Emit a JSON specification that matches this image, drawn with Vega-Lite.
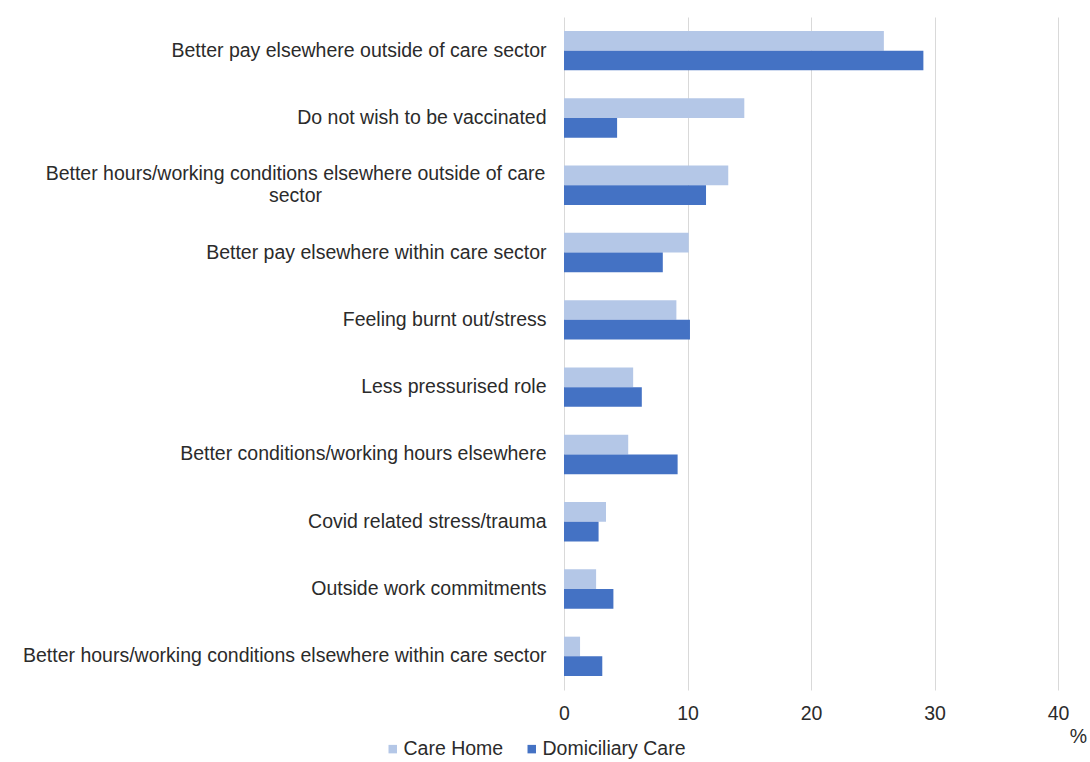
{
  "$schema": "https://vega.github.io/schema/vega-lite/v6.json",
  "width": 494,
  "height": 673,
  "autosize": {"type": "none"},
  "padding": {"left": 564, "top": 17, "right": 32, "bottom": 72},
  "background": "white",
  "config": {"view": {"stroke": null}, "font": "Liberation Sans"},
  "data": {
    "values": [
      {"reason": "Better pay elsewhere outside of care sector", "series": "Care Home", "value": 25.9},
      {"reason": "Better pay elsewhere outside of care sector", "series": "Domiciliary Care", "value": 29.1},
      {"reason": "Do not wish to be vaccinated", "series": "Care Home", "value": 14.6},
      {"reason": "Do not wish to be vaccinated", "series": "Domiciliary Care", "value": 4.3},
      {"reason": "Better hours/working conditions elsewhere outside of care sector", "series": "Care Home", "value": 13.3},
      {"reason": "Better hours/working conditions elsewhere outside of care sector", "series": "Domiciliary Care", "value": 11.5},
      {"reason": "Better pay elsewhere within care sector", "series": "Care Home", "value": 10.1},
      {"reason": "Better pay elsewhere within care sector", "series": "Domiciliary Care", "value": 8.0},
      {"reason": "Feeling burnt out/stress", "series": "Care Home", "value": 9.1},
      {"reason": "Feeling burnt out/stress", "series": "Domiciliary Care", "value": 10.2},
      {"reason": "Less pressurised role", "series": "Care Home", "value": 5.6},
      {"reason": "Less pressurised role", "series": "Domiciliary Care", "value": 6.3},
      {"reason": "Better conditions/working hours elsewhere", "series": "Care Home", "value": 5.2},
      {"reason": "Better conditions/working hours elsewhere", "series": "Domiciliary Care", "value": 9.2},
      {"reason": "Covid related stress/trauma", "series": "Care Home", "value": 3.4},
      {"reason": "Covid related stress/trauma", "series": "Domiciliary Care", "value": 2.8},
      {"reason": "Outside work commitments", "series": "Care Home", "value": 2.6},
      {"reason": "Outside work commitments", "series": "Domiciliary Care", "value": 4.0},
      {"reason": "Better hours/working conditions elsewhere within care sector", "series": "Care Home", "value": 1.3},
      {"reason": "Better hours/working conditions elsewhere within care sector", "series": "Domiciliary Care", "value": 3.1}
    ]
  },
  "mark": {"type": "bar"},
  "encoding": {
    "y": {
      "field": "reason",
      "type": "nominal",
      "sort": null,
      "scale": {"paddingInner": 0.415, "paddingOuter": 0.2075},
      "axis": {
        "title": null,
        "domain": false,
        "ticks": false,
        "grid": false,
        "labelFontSize": 19.5,
        "labelColor": "#2b2b2b",
        "labelLimit": 0,
        "labelLineHeight": 22,
        "labelExpr": "datum.value == 'Better hours/working conditions elsewhere outside of care sector' ? ['Better hours/working conditions elsewhere outside of care', 'sector'] : datum.value",
        "labelPadding": {"condition": {"test": "datum.value == 'Better hours/working conditions elsewhere outside of care sector'", "value": 269}, "value": 18},
        "labelAlign": {"condition": {"test": "datum.value == 'Better hours/working conditions elsewhere outside of care sector'", "value": "center"}, "value": "right"},
        "labelOffset": {"condition": {"test": "datum.value == 'Better hours/working conditions elsewhere outside of care sector'", "value": -11}, "value": 0}
      }
    },
    "yOffset": {
      "field": "series",
      "type": "nominal",
      "sort": ["Care Home", "Domiciliary Care"],
      "scale": {"paddingInner": 0, "paddingOuter": 0}
    },
    "x": {
      "field": "value",
      "type": "quantitative",
      "scale": {"domain": [0, 40]},
      "axis": {
        "values": [0, 10, 20, 30, 40],
        "grid": true,
        "gridColor": "#d9d9d9",
        "domain": false,
        "ticks": false,
        "labelFlush": false,
        "labelFontSize": 19.5,
        "labelColor": "#2b2b2b",
        "labelPadding": 14,
        "title": "%",
        "titleX": 514,
        "titleY": 46,
        "titleAlign": "center",
        "titleBaseline": "middle",
        "titleFontSize": 19.5,
        "titleFontWeight": "normal",
        "titleColor": "#2b2b2b"
      }
    },
    "color": {
      "field": "series",
      "type": "nominal",
      "scale": {"domain": ["Care Home", "Domiciliary Care"], "range": ["#b4c7e7", "#4472c4"]},
      "legend": {
        "title": null,
        "orient": "none",
        "direction": "horizontal",
        "legendX": -181,
        "legendY": 722,
        "symbolType": "square",
        "symbolSize": 72,
        "symbolStrokeWidth": 0,
        "labelFontSize": 19.5,
        "labelColor": "#2b2b2b",
        "labelOffset": 1,
        "columnPadding": 18
      }
    }
  }
}
